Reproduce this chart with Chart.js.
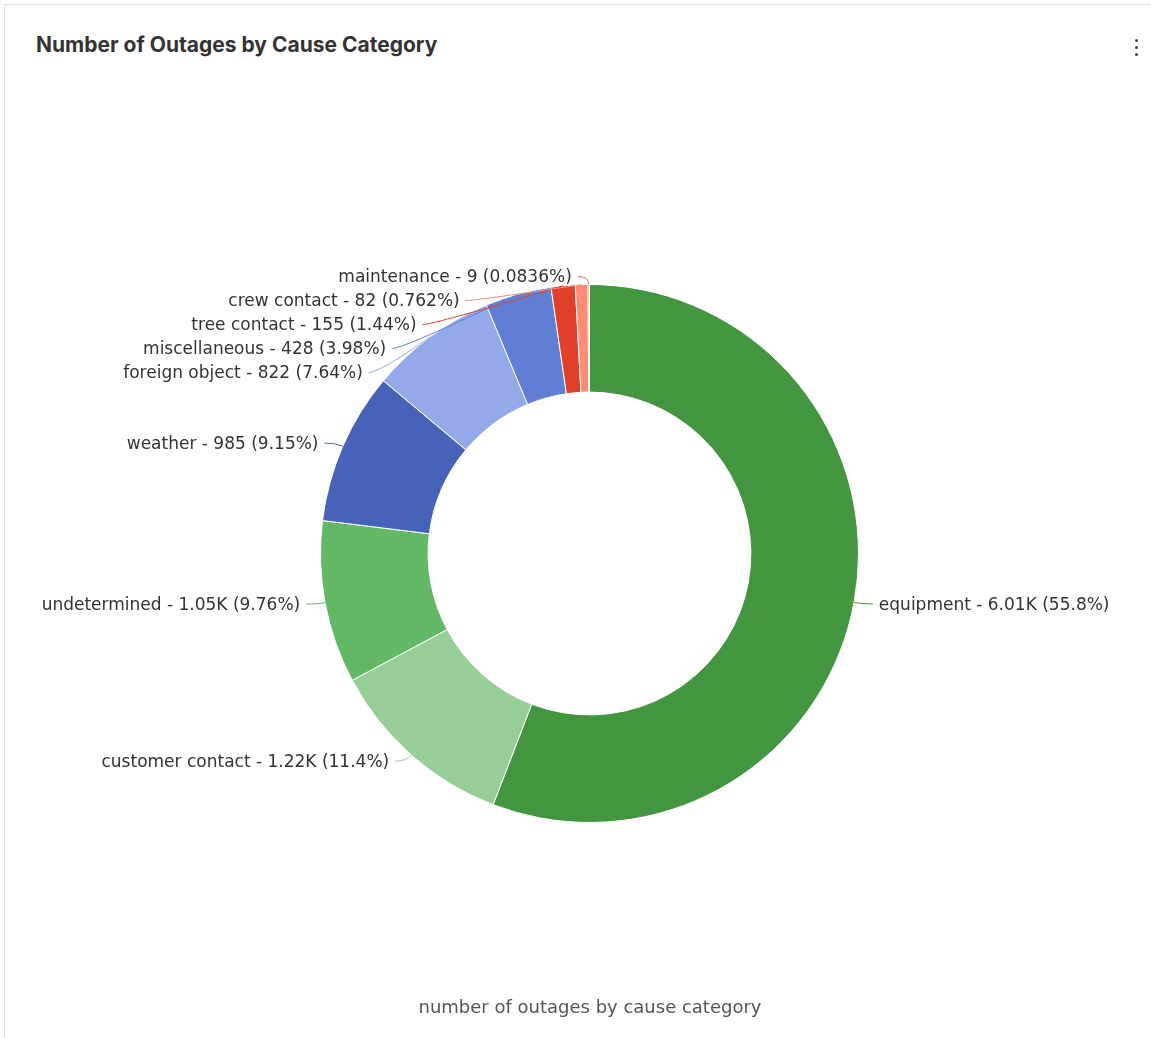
<!DOCTYPE html>
<html>
<head>
<meta charset="utf-8">
<title>Number of Outages by Cause Category</title>
<script src="https://cdn.jsdelivr.net/npm/chart.js@4.4.1/dist/chart.umd.min.js"></script>
<style>
  html, body { margin: 0; padding: 0; background: #fff; }
  body { width: 1151px; height: 1038px; position: relative; overflow: hidden; }
  .card {
    position: absolute; left: 4px; top: 4px; width: 1160px; height: 1040px;
    border: 1px solid #e2e2e2; border-right: none; border-bottom: none; box-sizing: border-box;
  }
  .title {
    position: absolute; left: 36px; top: 32px;
    font: 700 21px Inter, "Open Sans", sans-serif; color: #333;
  }
  .menu { position: absolute; left: 1135px; top: 39px; }
  .menu span { display: block; width: 3px; height: 3px; border-radius: 50%; background: #444; margin-bottom: 4px; }
  .caption {
    position: absolute; left: 0; width: 1180px; top: 996px; text-align: center;
    font: 18px "DejaVu Sans", sans-serif; color: #555;
  }
  #wrap { position: absolute; left: 0; top: 0; width: 1151px; height: 1038px; }
</style>
</head>
<body>
<div class="card"></div>
<div class="title">Number of Outages by Cause Category</div>
<div class="menu"><span></span><span></span><span></span></div>
<div id="wrap"><canvas id="outageChart"></canvas></div>
<div class="caption">number of outages by cause category</div>
<script>
const causes = ["equipment", "customer contact", "undetermined", "weather", "foreign object",
  "miscellaneous", "tree contact", "crew contact", "maintenance"];
const outages = [6010, 1223, 1051, 985, 822, 428, 155, 82, 9];
const sliceColors = ["#43963f", "#98ce98", "#63b866", "#4763b7", "#94a9ea",
  "#607fd4", "#e0402a", "#fe8c74", "#f2685c"];

const total = outages.reduce((a, b) => a + b, 0);

function fmtValue(v) {
  return v >= 1000 ? (v / 1000).toPrecision(3) + "K" : String(v);
}
function fmtPct(v) {
  return (v / total * 100).toPrecision(3) + "%";
}

// outside labels with leader lines, pushed apart vertically when they collide
const outLabels = {
  id: "outLabels",
  afterDatasetsDraw(chart) {
    const ctx = chart.ctx;
    const arcs = chart.getDatasetMeta(0).data;
    const L1 = 8, L2 = 11, GAP = 6, STEP = 24;
    const items = arcs.map((arc, i) => {
      const p = arc.getProps(["x", "y", "startAngle", "endAngle", "outerRadius"], true);
      const mid = (p.startAngle + p.endAngle) / 2;
      const c = Math.cos(mid), s = Math.sin(mid);
      return {
        i, cx: p.x, cy: p.y, r: p.outerRadius,
        ex: p.x + c * p.outerRadius, ey: p.y + s * p.outerRadius,
        px: p.x + c * (p.outerRadius + L1), py: p.y + s * (p.outerRadius + L1),
        left: c < 0
      };
    });
    [true, false].forEach(side => {
      const group = items.filter(it => it.left === side).sort((a, b) => a.py - b.py);
      let prev = -Infinity;
      group.forEach(it => {
        it.y = Math.max(it.py, prev + STEP);
        prev = it.y;
        if (it.y !== it.py) {
          const R = it.r + L1, dy = it.y - it.cy;
          const dx = Math.sqrt(Math.max(R * R - dy * dy, 0));
          it.x1 = side ? it.cx - dx : it.cx + dx;
        } else {
          it.x1 = it.px;
        }
      });
    });
    ctx.save();
    ctx.font = '17px "DejaVu Sans", sans-serif';
    ctx.textBaseline = "middle";
    items.forEach(it => {
      const dir = it.left ? -1 : 1;
      const x2 = it.x1 + dir * L2;
      ctx.strokeStyle = sliceColors[it.i];
      ctx.lineWidth = 1;
      ctx.beginPath();
      ctx.moveTo(it.ex, it.ey);
      ctx.quadraticCurveTo(it.x1, it.y, x2, it.y);
      ctx.stroke();
      ctx.fillStyle = "#333";
      ctx.textAlign = it.left ? "right" : "left";
      const v = outages[it.i];
      ctx.fillText(causes[it.i] + " - " + fmtValue(v) + " (" + fmtPct(v) + ")", x2 + dir * GAP, it.y + 1.5);
    });
    ctx.restore();
  }
};

new Chart(document.getElementById("outageChart"), {
  type: "doughnut",
  data: {
    labels: causes,
    datasets: [{
      data: outages,
      backgroundColor: sliceColors,
      borderColor: "#fff",
      borderWidth: 1
    }]
  },
  options: {
    responsive: true,
    maintainAspectRatio: false,
    animation: false,
    cutout: "60%",
    layout: { padding: { left: 320, right: 292, top: 284, bottom: 215 } },
    plugins: {
      legend: { display: false },
      tooltip: { enabled: false }
    }
  },
  plugins: [outLabels]
});
</script>
</body>
</html>
